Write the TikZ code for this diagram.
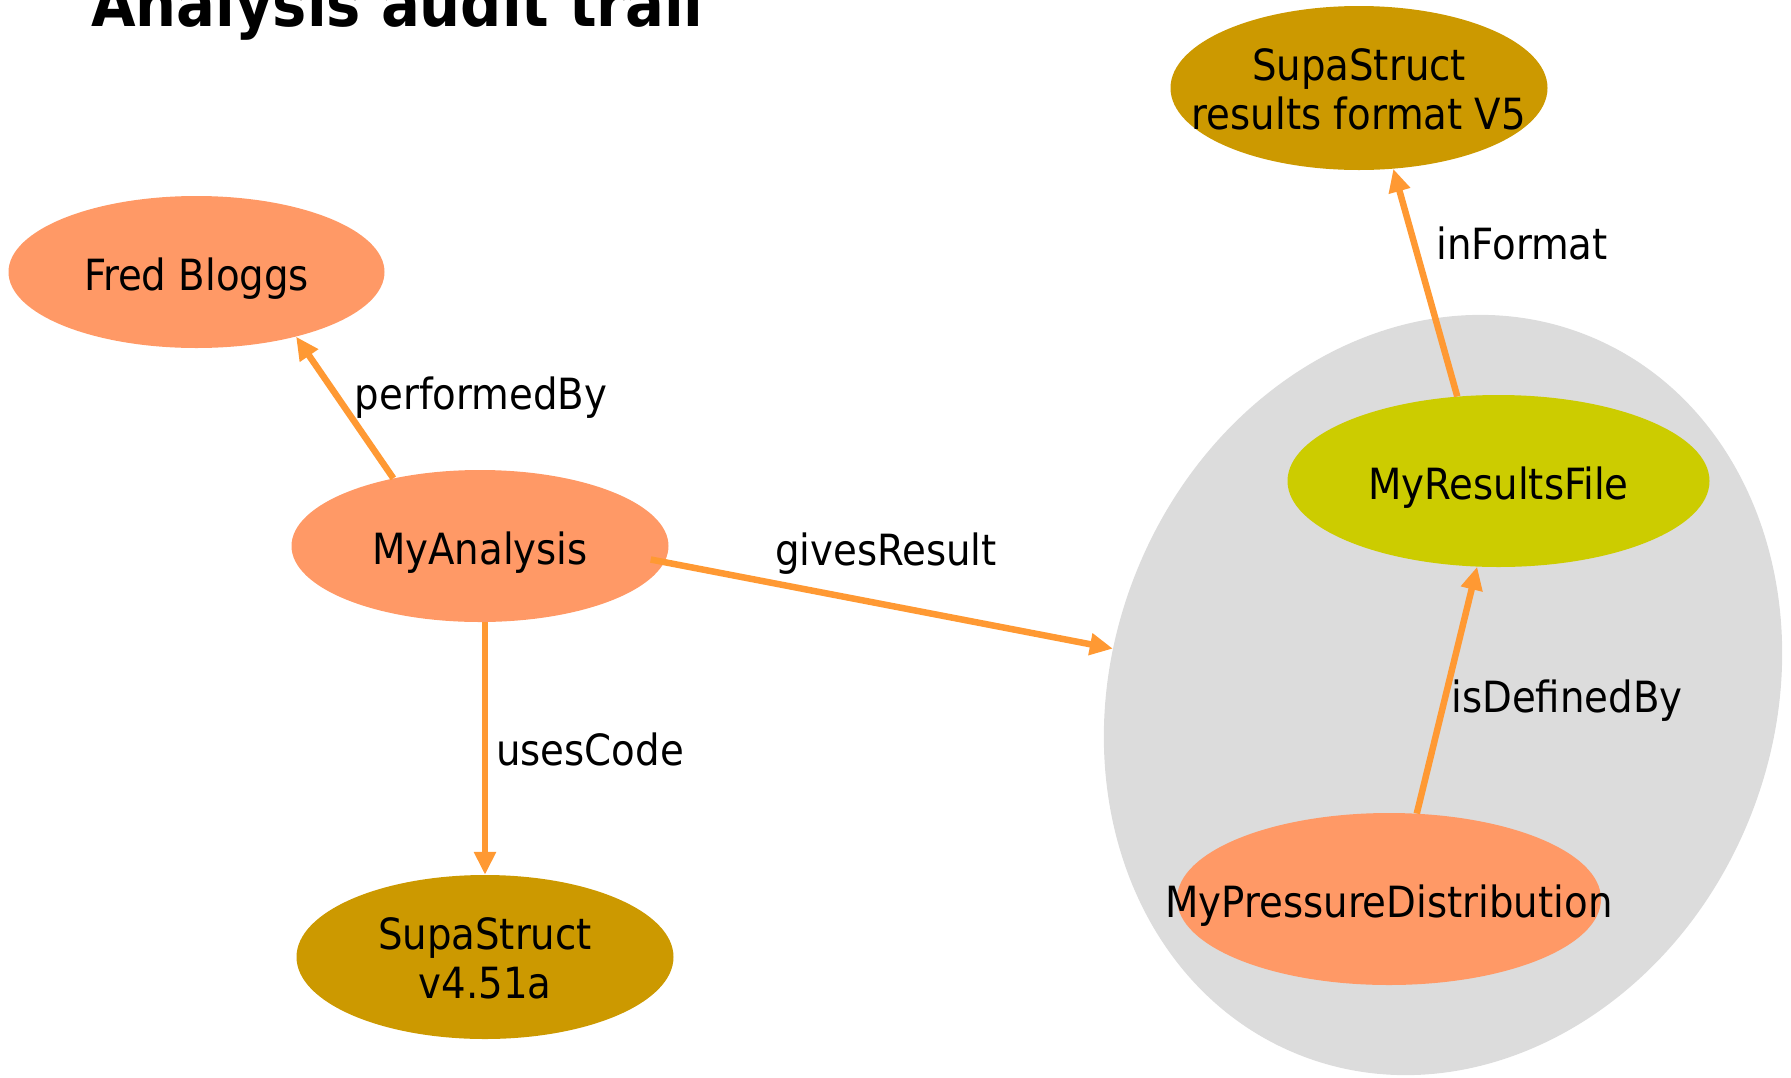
\documentclass[tikz,border=0pt]{standalone}
\usepackage{fontspec}
\setmainfont{DejaVu Sans Condensed}
\usetikzlibrary{shapes.geometric,arrows.meta}
\definecolor{salmonc}{HTML}{FF9966}
\definecolor{goldc}{HTML}{CC9900}
\definecolor{ygc}{HTML}{CCCC00}
\definecolor{grayc}{HTML}{DCDCDC}
\definecolor{arrowc}{HTML}{FF9933}
\newcommand{\ntext}[1]{\makebox[0pt]{\raisebox{-7pt}[\height][\depth]{#1}}}
\begin{document}
\begin{tikzpicture}[x=1pt,y=-1pt,
  ent/.style={ellipse, inner sep=0pt, font=\fontsize{43}{49}\selectfont},
  lbl/.style={font=\fontsize{43}{49}\selectfont, inner sep=0pt},
  rel/.style={draw=arrowc, line width=6.5pt, -{Triangle[length=23pt,width=21pt]}}]
\useasboundingbox (0,0) rectangle (1791,1077);
\node[ellipse, fill=grayc, minimum width=661pt, minimum height=775pt, rotate=-22, inner sep=0pt] (grp) at (1443,695) {};
\node[ent, fill=salmonc, minimum width=376pt, minimum height=152pt] (fred) at (196.5,272) {\ntext{Fred Bloggs}};
\node[ent, fill=salmonc, minimum width=377pt, minimum height=152pt] (ana) at (480,546) {\ntext{MyAnalysis}};
\node[ent, fill=goldc, minimum width=377pt, minimum height=164pt] (v451) at (485,957) {\ntext{\begin{tabular}{@{}c@{}}SupaStruct\\v4.51a\end{tabular}}};
\node[ent, fill=goldc, minimum width=377pt, minimum height=164pt] (v5) at (1359,88) {\ntext{\begin{tabular}{@{}c@{}}SupaStruct\\results format V5\end{tabular}}};
\node[ent, fill=ygc, minimum width=422pt, minimum height=172pt] (res) at (1498.5,481) {\ntext{MyResultsFile}};
\node[ent, fill=salmonc, minimum width=424pt, minimum height=172pt] (pres) at (1389,899) {\ntext{MyPressureDistribution}};
\draw[rel] (ana.142) -- (fred.-33);
\draw[rel] (v451.north |- ana.south) -- (v451.north);
\draw[rel, shorten <=-14pt] (ana.-5) -- (grp.194);
\draw[rel] (res.116) -- (v5.-67.6);
\draw[rel] (pres.72.4) -- (res.256.6);
\node[lbl] (l1) at (481,398) {performedBy};
\node[lbl] (l2) at (886,554) {givesResult};
\node[lbl] (l3) at (590,749) {usesCode};
\node[lbl] (l4) at (1522,243) {inFormat};
\node[lbl] (l5) at (1567,701) {isDefinedBy};
\node[anchor=base west, inner sep=0pt, font=\fontsize{64}{70}\selectfont\bfseries] (title) at (91,26) {Analysis audit trail};
\end{tikzpicture}
\end{document}
